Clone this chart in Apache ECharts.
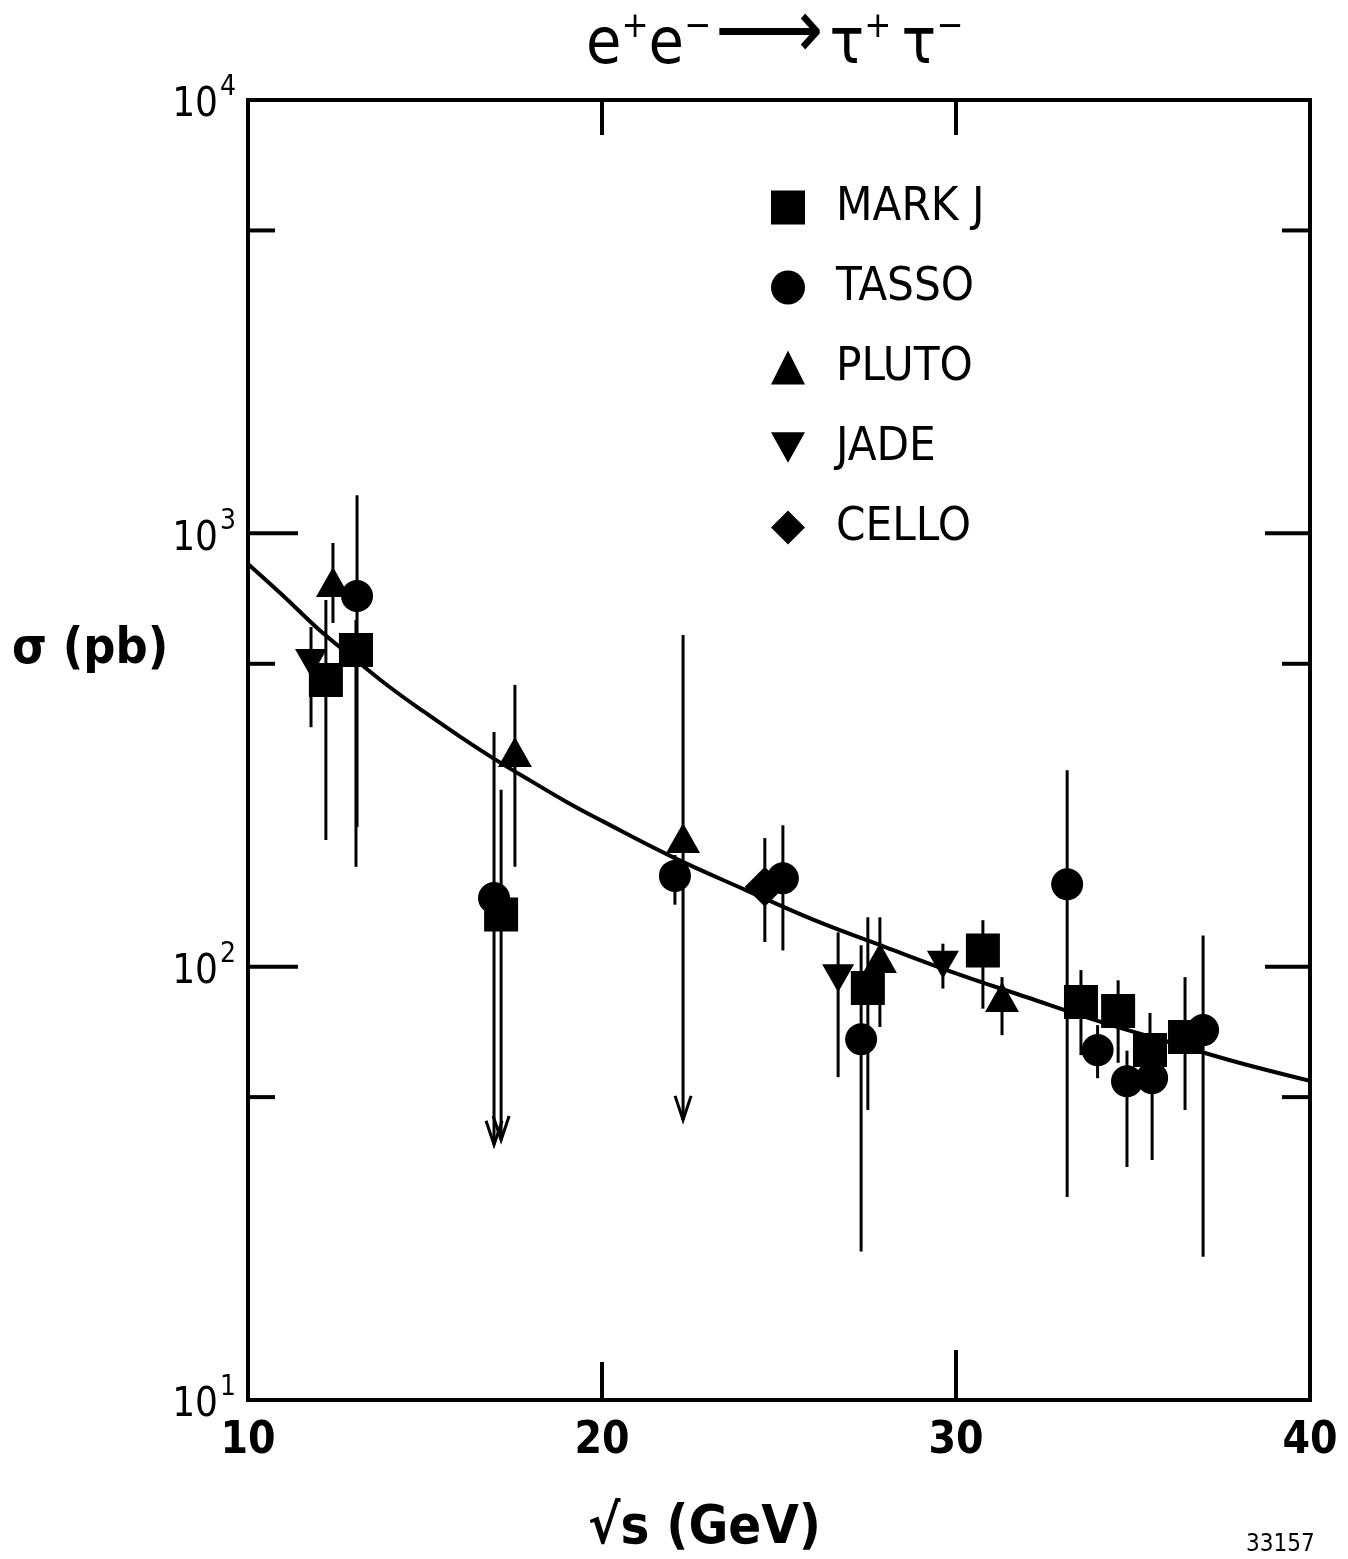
<!DOCTYPE html>
<html><head><meta charset="utf-8">
<script src="https://cdn.jsdelivr.net/npm/echarts@6/dist/echarts.min.js"></script>
<style>html,body{margin:0;padding:0;background:#fff}#c{width:1348px;height:1559px}</style>
</head><body><div id="c"></div>
<script>
const FONT = '"DejaVu Sans Condensed","Liberation Sans Narrow","Liberation Sans",sans-serif';

// ---- data ----
const seriesNames = ['MARK J', 'TASSO', 'PLUTO', 'JADE', 'CELLO'];

const markJ_x  = [12.2, 13.05, 17.15, 27.51, 30.76, 33.53, 34.58, 35.48, 36.47];
const markJ_y  = [459, 538, 132, 89.3, 109, 82.9, 79, 64.2, 68.8];
const markJ_hi = [702, 631, 256, 130, 128, 98.2, 93, 78.2, 94.6];
const markJ_lo = [196, 170, 39.8, 46.7, 80, 62.5, 60, 55, 46.7];
const markJ_lim = [0, 0, 1, 0, 0, 0, 0, 0, 0];

const tasso_x  = [13.08, 16.95, 22.06, 25.11, 27.32, 33.14, 34.0, 34.83, 35.54, 36.98];
const tasso_y  = [717, 144, 162, 160, 68, 155, 64.2, 54.4, 55.3, 71.4];
const tasso_hi = [1225, 348, 181, 212, 112, 284, 73.3, 64, 64, 118];
const tasso_lo = [210, 38.8, 139, 109, 22, 29.4, 55.3, 34.5, 35.8, 21.4];
const tasso_lim = [0, 1, 0, 0, 0, 0, 0, 0, 0, 0];

const pluto_x  = [12.4, 17.54, 22.29, 27.85, 31.3];
const pluto_y  = [772, 313, 198, 104.7, 85.1];
const pluto_hi = [950, 447, 583, 130, 94.6];
const pluto_lo = [621, 170, 44.3, 72.6, 69.5];
const pluto_lim = [0, 0, 1, 0, 0];

const jade_x  = [11.78, 26.67, 29.63];
const jade_y  = [502, 94, 101];
const jade_hi = [608, 120, 113];
const jade_lo = [357, 55.6, 89];
const jade_lim = [0, 0, 0];

const cello_x  = [24.6];
const cello_y  = [153];
const cello_hi = [198];
const cello_lo = [114];
const cello_lim = [0];

// curve
const curve_x = [10, 11, 12, 13, 14, 15, 16, 17, 18, 19, 20, 22, 24, 26, 28, 30, 32, 34, 36, 38, 40];
const curve_y = [850, 717, 600, 514, 442, 386, 339, 300, 268, 240, 217, 179, 151, 128, 111, 96.5, 85, 75, 67, 60, 54.5];

// axis ticks
const xTickValues = [10, 20, 30, 40];
const yTickValues = [10, 100, 1000, 10000];
const yMajorInner = [100, 1000];
const yMinorInner = [50, 500, 5000];
const xInner = [20, 30];

// ---- build ----
const zip = (...a) => a[0].map((_, i) => a.map(arr => arr[i]));

function errRender(params, api) {
  const x = api.value(0), lo = api.value(1), hi = api.value(2), lim = api.value(3);
  const p1 = api.coord([x, hi]), p2 = api.coord([x, lo]);
  const ch = [{type: 'line', shape: {x1: p1[0], y1: p1[1], x2: p2[0], y2: p2[1]},
               style: {stroke: '#000', lineWidth: 3}}];
  if (lim) ch.push({type: 'polyline',
      shape: {points: [[p2[0] - 8, p2[1] - 24], [p2[0], p2[1]], [p2[0] + 8, p2[1] - 24]]},
      style: {stroke: '#000', lineWidth: 3, fill: null}});
  return {type: 'group', children: ch};
}
function errSeries(xs, lo, hi, lim) {
  return {type: 'custom', renderItem: errRender, data: zip(xs, lo, hi, lim),
          encode: {x: 0, y: [1, 2]}, silent: true, z: 3};
}
function yTickSeries(vals, lenL, lenR) {
  return {type: 'custom', silent: true, z: 4, data: vals.map(v => [10, v]),
    encode: {x: 0, y: 1},
    renderItem: (p, api) => {
      const v = api.value(1);
      const a = api.coord([10, v]), b = api.coord([40, v]);
      return {type: 'group', children: [
        {type: 'line', shape: {x1: a[0], y1: a[1], x2: a[0] + lenL, y2: a[1]}, style: {stroke: '#000', lineWidth: 4}},
        {type: 'line', shape: {x1: b[0], y1: b[1], x2: b[0] - lenR, y2: b[1]}, style: {stroke: '#000', lineWidth: 4}}
      ]};
    }};
}
const xTickSeries = {type: 'custom', silent: true, z: 4, data: xInner.map(v => [v, 100]),
  encode: {x: 0, y: 1},
  renderItem: (p, api) => {
    const v = api.value(0);
    const a = api.coord([v, 10000]), b = api.coord([v, 10]);
    const lb = v === 30 ? 50 : 38;
    return {type: 'group', children: [
      {type: 'line', shape: {x1: a[0], y1: a[1], x2: a[0], y2: a[1] + 35}, style: {stroke: '#000', lineWidth: 4}},
      {type: 'line', shape: {x1: b[0], y1: b[1], x2: b[0], y2: b[1] - lb}, style: {stroke: '#000', lineWidth: 4}}
    ]};
  }};

const sc = (name, xs, ys, symbol, size, z) => ({
  name, type: 'scatter', data: zip(xs, ys), symbol, symbolSize: size,
  itemStyle: {color: '#000', opacity: 1}, z: z || 5, silent: true
});

const option = {
  animation: false,
  backgroundColor: '#fff',
  grid: {left: 248, right: 38, top: 100, bottom: 159, show: true, borderColor: '#000', borderWidth: 4},
  xAxis: [{
    type: 'value', min: 10, max: 40, interval: 10,
    axisLine: {show: true, lineStyle: {color: '#000', width: 4}},
    axisTick: {show: false}, splitLine: {show: false},
    axisLabel: {fontSize: 44, color: '#000', fontFamily: FONT, fontWeight: 'bold', margin: 20,
      formatter: v => xTickValues.includes(v) ? String(v) : ''}
  }, {
    type: 'value', position: 'top', min: 10, max: 40, interval: 10,
    axisLine: {show: true, lineStyle: {color: '#000', width: 4}},
    axisTick: {show: false}, splitLine: {show: false}, axisLabel: {show: false}
  }],
  yAxis: [{
    type: 'log', logBase: 10, min: 10, max: 10000,
    axisLine: {show: true, lineStyle: {color: '#000', width: 4}},
    axisTick: {show: false}, splitLine: {show: false},
    axisLabel: {margin: 12, color: '#000',
      formatter: v => yTickValues.includes(v) ? '{n|10}{s|' + Math.round(Math.log10(v)) + '}' : '',
      rich: {
        n: {fontSize: 40, fontFamily: FONT, color: '#000', verticalAlign: 'bottom'},
        s: {fontSize: 28, fontFamily: FONT, color: '#000', verticalAlign: 'bottom', padding: [0, 0, 24, 2]}
      }}
  }, {
    type: 'log', logBase: 10, min: 10, max: 10000, position: 'right',
    axisLine: {show: true, lineStyle: {color: '#000', width: 4}},
    axisTick: {show: false}, splitLine: {show: false}, axisLabel: {show: false}
  }],
  legend: {
    orient: 'vertical', left: 766, top: 179, itemWidth: 34, itemHeight: 34, itemGap: 33,
    selectedMode: false,
    textStyle: {fontSize: 47, color: '#000', fontFamily: FONT, padding: [0, 0, 0, 26], height: 34, lineHeight: 34},
    data: seriesNames
  },
  series: [
    {type: 'line', data: zip(curve_x, curve_y), smooth: 0.4, showSymbol: false, symbol: 'none',
     lineStyle: {color: '#000', width: 4}, silent: true, z: 2},
    errSeries(markJ_x, markJ_lo, markJ_hi, markJ_lim),
    errSeries(tasso_x, tasso_lo, tasso_hi, tasso_lim),
    errSeries(pluto_x, pluto_lo, pluto_hi, pluto_lim),
    errSeries(jade_x, jade_lo, jade_hi, jade_lim),
    errSeries(cello_x, cello_lo, cello_hi, cello_lim),
    sc('MARK J', markJ_x, markJ_y, 'rect', [34, 34]),
    sc('TASSO', tasso_x, tasso_y, 'circle', 32),
    sc('PLUTO', pluto_x, pluto_y, 'triangle', [34, 30]),
    sc('JADE', jade_x, jade_y, 'path://M0,0L10,0L5,9Z', [32, 28]),
    sc('CELLO', cello_x, cello_y, 'diamond', [40, 40]),
    yTickSeries(yMajorInner, 50, 45),
    yTickSeries(yMinorInner, 27, 28),
    xTickSeries
  ],
  graphic: [
    {type: 'text', left: 586, top: -6, style: {
      text: '{b|e}{s|+}{b|e}{s|−}{a|⟶}{b|τ}{s|+ }{b|τ}{s|−}',
      rich: {
        b: {fontSize: 64, fontFamily: FONT, fill: '#000', verticalAlign: 'bottom'},
        a: {fontSize: 84, fontFamily: FONT, fill: '#000', verticalAlign: 'bottom', padding: [0, 6, 0, 4]},
        s: {fontSize: 36, fontFamily: FONT, fill: '#000', verticalAlign: 'bottom', padding: [0, 0, 32, 0]}
      }}},
    {type: 'text', left: 12, top: 625, style: {text: 'σ (pb)', fontSize: 50, fontFamily: FONT, fontWeight: 'bold', fill: '#000'}},
    {type: 'text', left: 588, top: 1502, style: {text: '√s (GeV)', fontSize: 54, fontFamily: FONT, fontWeight: 'bold', fill: '#000'}},
    {type: 'text', left: 1246, top: 1533, style: {text: '33157', fontSize: 24, fontFamily: FONT, fill: '#000'}}
  ]
};
echarts.init(document.getElementById('c'), null, {renderer: 'canvas'}).setOption(option);
</script>
</body></html>
